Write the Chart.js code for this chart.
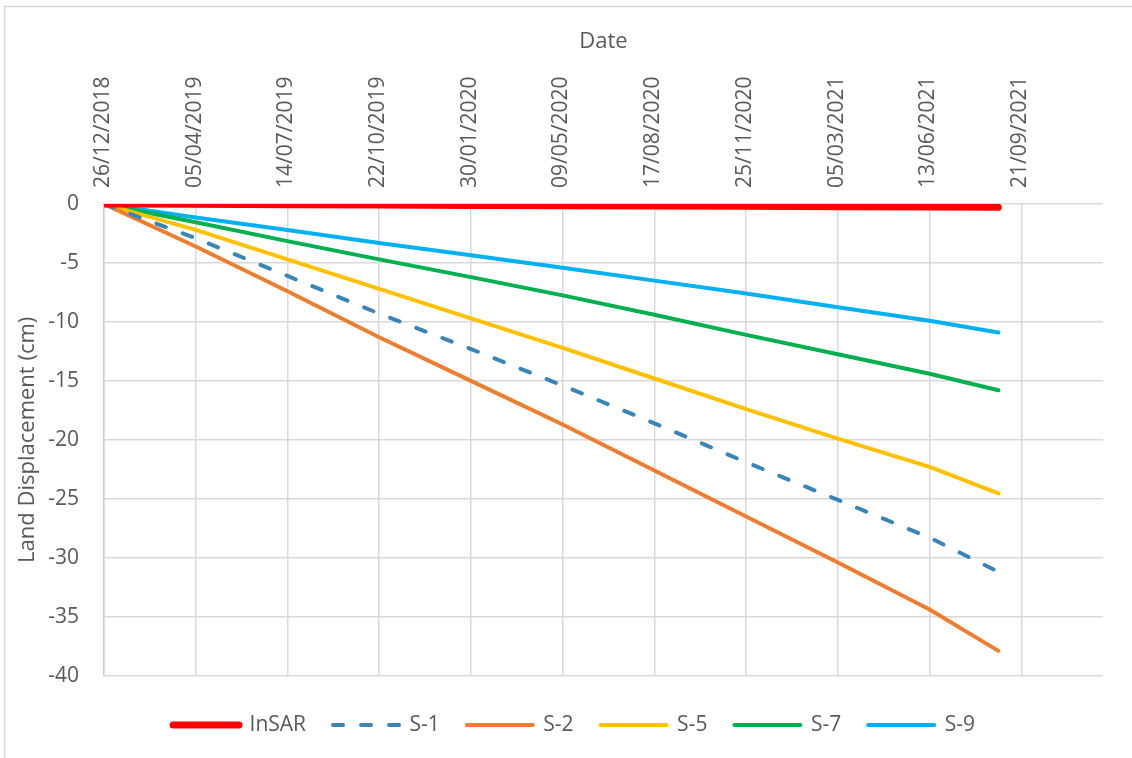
<!DOCTYPE html>
<html>
<head>
<meta charset="utf-8">
<title>Land Displacement</title>
<script src="https://cdn.jsdelivr.net/npm/chart.js@4.4.1/dist/chart.umd.min.js"></script>
<style>
  html, body { margin: 0; padding: 0; background: #ffffff; }
  canvas { display: block; }
</style>
</head>
<body>
<canvas id="chart" width="1132" height="758"></canvas>
<script>
// Observation dates (dd/mm/yyyy)
const dates = ['26/12/2018', '05/04/2019', '14/07/2019', '22/10/2019', '30/01/2020',
               '09/05/2020', '17/08/2020', '25/11/2020', '05/03/2021', '13/06/2021', '27/08/2021'];

// Land displacement (cm) per series
const insar = [0, -0.03, -0.06, -0.09, -0.12, -0.15, -0.17, -0.2, -0.23, -0.26, -0.28];
const s1    = [0, -2.9, -6.1, -9.3, -12.3, -15.4, -18.6, -21.9, -25.1, -28.3, -31.2];
const s2    = [0, -3.6, -7.4, -11.3, -15.0, -18.7, -22.6, -26.5, -30.4, -34.4, -37.9];
const s5    = [0, -2.2, -4.7, -7.2, -9.7, -12.2, -14.8, -17.4, -19.9, -22.3, -24.55];
const s7    = [0, -1.55, -3.15, -4.7, -6.2, -7.75, -9.4, -11.1, -12.75, -14.4, -15.8];
const s9    = [0, -1.15, -2.2, -3.3, -4.35, -5.4, -6.5, -7.6, -8.75, -9.9, -10.9];

// Axis range
const axisStart = '26/12/2018';
const axisEnd   = '19/12/2021';
const dayStep   = 100;
const yMin = -40, yMax = 0, yStep = 5;

const DAY_MS = 86400000;
function toUTC(s) {
  const [d, m, y] = s.split('/').map(Number);
  return Date.UTC(y, m - 1, d);
}
const originMs = toUTC(axisStart);
function toDay(s) { return Math.round((toUTC(s) - originMs) / DAY_MS); }
function dayLabel(day) {
  const t = new Date(originMs + day * DAY_MS);
  const p = n => String(n).padStart(2, '0');
  return p(t.getUTCDate()) + '/' + p(t.getUTCMonth() + 1) + '/' + t.getUTCFullYear();
}
const pts = vals => vals.map((v, i) => ({ x: toDay(dates[i]), y: v }));

const FONT = "'Open Sans', 'Liberation Sans', sans-serif";
const TEXT = '#595959';
const GRID = '#D9D9D9';

// White background and thin outer frame of the chart area
const framePlugin = {
  id: 'frame',
  beforeDraw(chart) {
    const ctx = chart.ctx;
    ctx.save();
    ctx.fillStyle = '#ffffff';
    ctx.fillRect(0, 0, chart.width, chart.height);
    ctx.strokeStyle = GRID;
    ctx.lineWidth = 1.5;
    ctx.strokeRect(4.5, 6.5, chart.width + 20, chart.height + 20);
    ctx.restore();
  }
};

// Places the legend row a little lower and centred on the chart frame
const legendPlace = {
  id: 'legendPlace',
  afterLayout(chart) {
    const l = chart.legend;
    if (!l) return;
    l.top += 12; l.bottom += 12;
    l.left += 15; l.right += 15;
  }
};

const lineDs = (label, data, color, width, extra) => Object.assign({
  label,
  data: pts(data),
  borderColor: color,
  backgroundColor: color,
  borderWidth: width,
  borderCapStyle: 'round',
  borderJoinStyle: 'round',
  pointRadius: 0,
  pointHoverRadius: 0,
  tension: 0,
  fill: false
}, extra || {});

// Legend samples take the dash pattern and width of their line
function legendItems(chart) {
  const items = Chart.defaults.plugins.legend.labels.generateLabels(chart);
  return items.map(item => {
    const ds = chart.data.datasets[item.datasetIndex];
    item.lineDash = ds.borderDash || [];
    item.lineDashOffset = 0;
    item.lineWidth = ds.borderWidth;
    item.lineCap = 'round';
    item.strokeStyle = ds.borderColor;
    return item;
  });
}

new Chart(document.getElementById('chart'), {
  type: 'line',
  data: {
    datasets: [
      lineDs('InSAR', insar, '#FF0000', 7),
      lineDs('S-1', s1, '#3B84B6', 4, { borderDash: [10, 18] }),
      lineDs('S-2', s2, '#ED7D31', 4),
      lineDs('S-5', s5, '#FFC000', 4),
      lineDs('S-7', s7, '#00B050', 4),
      lineDs('S-9', s9, '#00B0F0', 4)
    ]
  },
  plugins: [framePlugin, legendPlace],
  options: {
    responsive: false,
    devicePixelRatio: 1,
    animation: false,
    events: [],
    layout: { padding: { left: 15, right: 29, top: 10, bottom: 24.4 } },
    plugins: {
      tooltip: { enabled: false },
      legend: {
        position: 'bottom',
        labels: {
          usePointStyle: true,
          pointStyle: 'line',
          pointStyleWidth: 66,
          padding: 27,
          color: TEXT,
          font: { family: FONT, size: 21 },
          generateLabels: legendItems
        }
      }
    },
    scales: {
      x: {
        type: 'linear',
        position: 'top',
        min: toDay(axisStart),
        max: toDay(axisEnd),
        afterFit(scale) { scale.height = 194; },
        title: {
          display: true,
          text: 'Date',
          color: TEXT,
          font: { family: FONT, size: 22 },
          padding: { top: 19, bottom: 0 }
        },
        ticks: {
          stepSize: dayStep,
          includeBounds: false,
          autoSkip: false,
          minRotation: 90,
          maxRotation: 90,
          padding: 16,
          labelOffset: 24,
          color: TEXT,
          font: { family: FONT, size: 21 },
          callback: v => dayLabel(v)
        },
        grid: { color: GRID, lineWidth: 1.5, drawTicks: false },
        border: { display: false }
      },
      y: {
        type: 'linear',
        position: 'left',
        min: yMin,
        max: yMax,
        afterFit(scale) { scale.width = 89; },
        title: {
          display: true,
          text: 'Land Displacement (cm)',
          color: TEXT,
          font: { family: FONT, size: 22 },
          padding: { top: 0, bottom: 0 }
        },
        ticks: {
          stepSize: yStep,
          padding: 25,
          color: TEXT,
          font: { family: FONT, size: 21 }
        },
        grid: { color: GRID, lineWidth: 1.5, drawTicks: false },
        border: { color: '#CFCFCF', width: 1.5 }
      }
    }
  }
});
</script>
</body>
</html>
